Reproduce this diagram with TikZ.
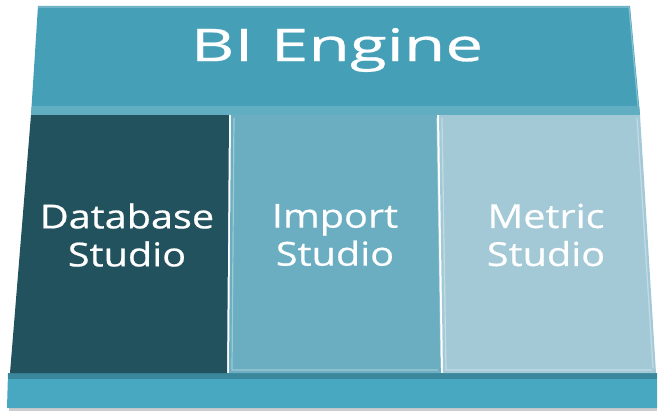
\documentclass[tikz,border=0pt]{standalone}
\usepackage{fontspec}
\setmainfont{Open Sans}
\newfontfamily\widefont[FakeStretch=1.2, FakeBold=0.6]{Open Sans}
\newfontfamily\titlefont[FakeStretch=1.5, FakeBold=0.6]{Open Sans}
\definecolor{engine}{HTML}{459FB7}
\definecolor{dbcol}{HTML}{21525E}
\definecolor{impcol}{HTML}{6BAEC1}
\definecolor{metcol}{HTML}{A3C9D7}
\definecolor{basecol}{HTML}{48A7C1}
\begin{document}
\begin{tikzpicture}[x=1pt, y=-1pt,
    label/.style={text=white, align=center, font=\widefont\fontsize{33}{38}\selectfont},
    bevel/.style={white, opacity=0.35, line width=1.2pt}]
  \useasboundingbox (0,0) rectangle (660,411);
  % base and shadow
  \fill[gray!40] (9,406) -- (657,406) -- (657,411) -- (9,411) -- cycle;
  \fill[basecol] (8,373) -- (657,373) -- (657,408) -- (7,408) -- cycle;
  \fill[basecol!80!black] (8,373) -- (657,373) -- (657,379) -- (8,379) -- cycle;
  % studios
  \fill[dbcol] (31,115) -- (229,115) -- (227,373) -- (10,373) -- cycle;
  \fill[impcol] (231,115) -- (437,115) -- (441,373) -- (229,373) -- cycle;
  \fill[metcol] (439,115) -- (640,115) -- (656,373) -- (443,373) -- cycle;
  \draw[bevel] (234,118) -- (232,370) -- (438,370);
  \draw[bevel] (437,118) -- (441,368);
  \draw[bevel] (442,118) -- (446,370) -- (652,370);
  \draw[bevel] (637,118) -- (653,368);
  % engine bar
  \fill[engine] (38,6) -- (630,6) -- (640,115) -- (31,115) -- cycle;
  \fill[engine!85!white] (32,106) -- (639,106) -- (640,115) -- (31,115) -- cycle;
  \draw[bevel] (38,7) -- (629,7) -- (638,106);
  \node[text=white, font=\titlefont\fontsize{45}{50}\selectfont] (engine) at (337,50) {BI Engine};
  \node[label] (database) at (127,235) {Database\\Studio};
  \node[label] (import) at (335,235) {Import\\Studio};
  \node[label] (metric) at (546,235) {Metric\\Studio};
\end{tikzpicture}
\end{document}
